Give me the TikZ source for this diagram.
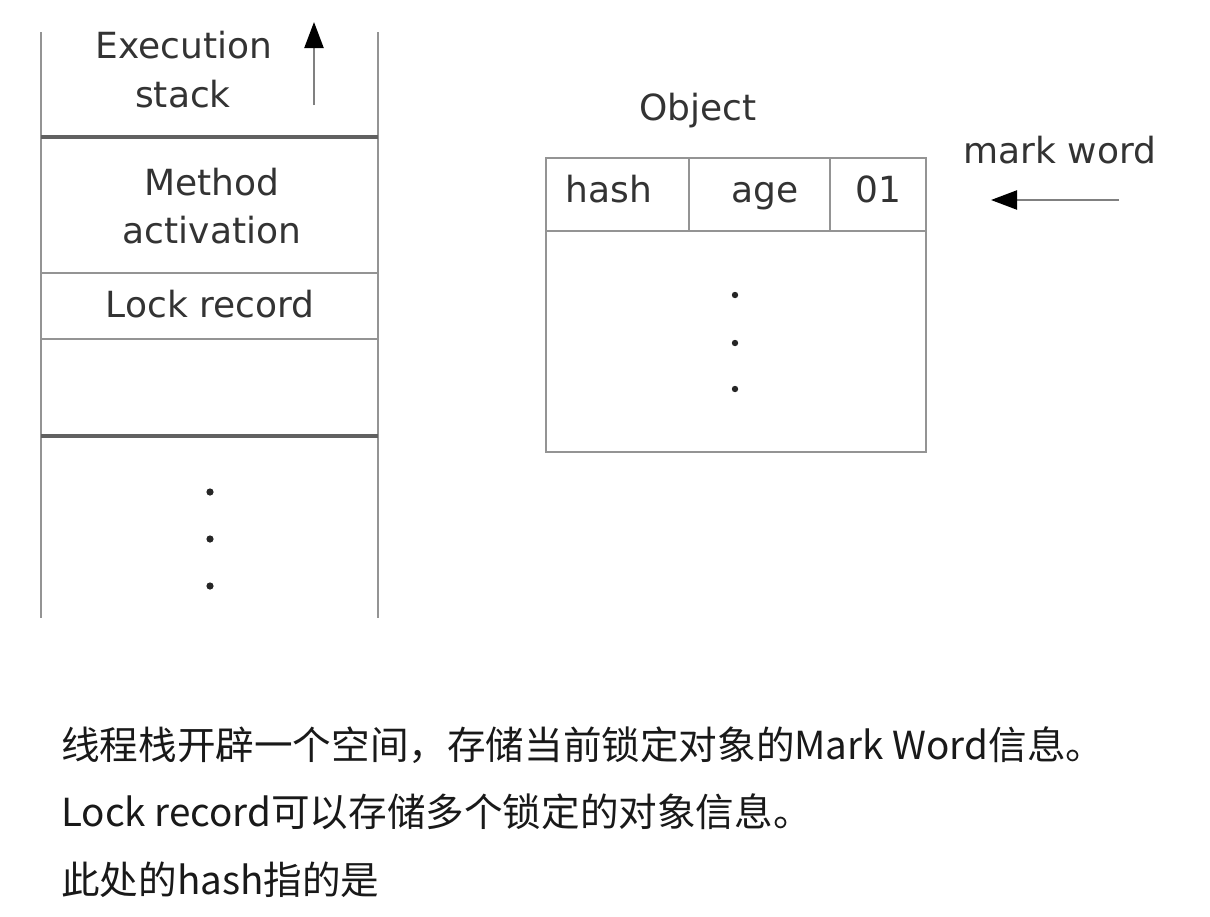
\documentclass[tikz,border=0pt]{standalone}
\usepackage{fontspec}
\setmainfont{DejaVu Sans}
\newfontfamily\cjk{Noto Sans CJK SC}
\usetikzlibrary{arrows.meta}
\tikzset{
  thinline/.style={draw=black!42, line width=2pt},
  thickline/.style={draw=black!62, line width=3.5pt},
  lbl/.style={font=\fontsize{36}{40}\selectfont, text=black!80, inner sep=0pt, anchor=base},
  cjktext/.style={font=\cjk\fontsize{38.6}{44}\selectfont, text=black!90, inner sep=0pt, anchor=west},
  dotmark/.style={fill=black!85, draw=none},
  pointer/.style={draw=black!50, line width=2.2pt, -{Triangle[length=26pt,width=19pt,color=black]}},
}
\begin{document}
\begin{tikzpicture}[x=1pt,y=-1pt]
\useasboundingbox[fill=white] (0,0) rectangle (1210,916);

% ---- execution stack ----
\draw[thinline] (41,32) -- (41,618);
\draw[thinline] (378,32) -- (378,618);
\draw[thickline] (41,137) -- (378,137);
\draw[thinline] (41,273) -- (378,273);
\draw[thinline] (41,339) -- (378,339);
\draw[thickline] (41,436) -- (378,436);

\node[lbl] (exec) at (184,58) {Execution};
\node[lbl] (stack) at (183,107) {stack};
\coordinate (upA) at (314,105);
\coordinate (upB) at (314,22);
\draw[pointer] (upA) -- (upB);

\node[lbl] (meth) at (212,195) {Method};
\node[lbl] (activ) at (212,243) {activation};
\node[lbl] (lock) at (210,317) {Lock record};

\fill[dotmark] (210,492) circle (3.6);
\fill[dotmark] (210,539) circle (3.6);
\fill[dotmark] (210,586) circle (3.6);

% ---- object ----
\node[lbl] (objt) at (698,120) {Object};
\draw[thinline] (546,158) rectangle (926,452);
\draw[thinline] (546,231) -- (926,231);
\draw[thinline] (689,158) -- (689,231);
\draw[thinline] (830,158) -- (830,231);
\node[lbl] (hash) at (609,202) {hash};
\node[lbl] (age) at (765,202) {age};
\node[lbl] (o1) at (878,202) {01};

\fill[dotmark] (735,295) circle (3.2);
\fill[dotmark] (735,343) circle (3.2);
\fill[dotmark] (735,389) circle (3.2);

\node[lbl] (mw) at (1060,163) {mark word};
\coordinate (mwA) at (1119,200);
\coordinate (mwB) at (991,200);
\draw[pointer] (mwA) -- (mwB);

% ---- caption ----
\node[cjktext] (l1) at (61,745) {线程栈开辟一个空间，存储当前锁定对象的Mark Word信息。};
\node[cjktext] (l2) at (61,812) {Lock record可以存储多个锁定的对象信息。};
\node[cjktext] (l3) at (61,880) {此处的hash指的是};
\end{tikzpicture}
\end{document}
